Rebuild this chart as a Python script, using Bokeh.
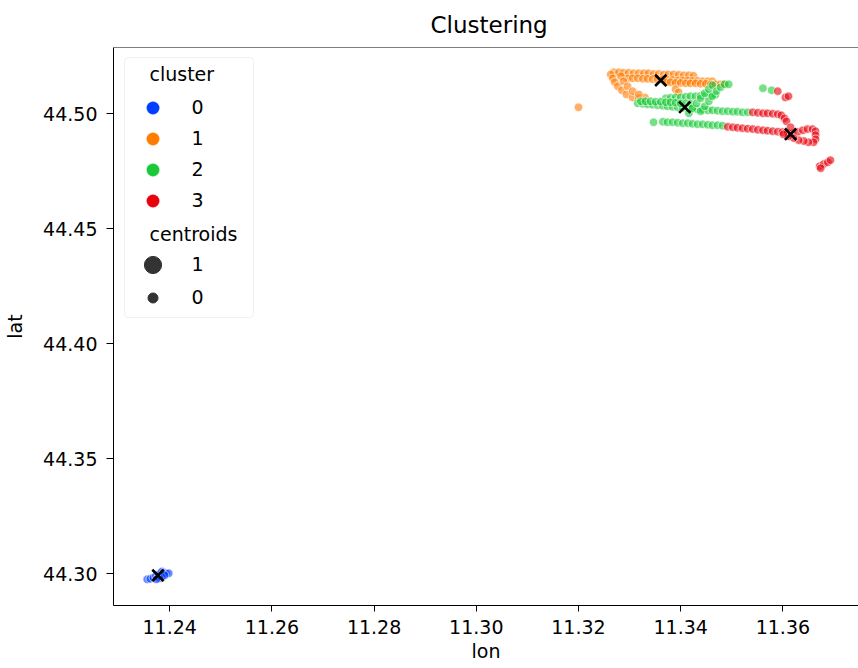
from bokeh.plotting import figure
from bokeh.models import (Range1d, FixedTicker, Legend, LegendItem, Label,
                          BoxAnnotation, Span)
from bokeh.embed import file_html
from bokeh.resources import INLINE

FONT = "DejaVu Sans"
NAN = float("nan")

# ---------------- data ----------------
cluster_names = ["0", "1", "2", "3"]
cluster_colors = ["#023eff", "#ff7c00", "#1ac938", "#e8000b"]

lon_c0 = [11.2356, 11.2362, 11.2368, 11.2373, 11.2378, 11.2382, 11.2385, 11.2388,
          11.2393, 11.2398, 11.2385, 11.2380, 11.2374, 11.2390]
lat_c0 = [44.2976, 44.2978, 44.2983, 44.2990, 44.2997, 44.3003, 44.3010, 44.3005,
          44.3001, 44.3002, 44.2985, 44.2980, 44.2976, 44.2994]

lon_c1 = [11.3269, 11.3279, 11.3288, 11.3298, 11.3308, 11.3318, 11.3328, 11.3337,
          11.3347, 11.3357, 11.3367, 11.3376, 11.3386, 11.3396, 11.3406, 11.3416, 11.3425,
          11.3296, 11.3306, 11.3316, 11.3326, 11.3335, 11.3345, 11.3355, 11.3365,
          11.3374, 11.3384, 11.3394, 11.3404, 11.3414, 11.3423, 11.3433, 11.3443, 11.3453, 11.3462,
          11.3371, 11.3380, 11.3390, 11.3400, 11.3410, 11.3419, 11.3429, 11.3439,
          11.3449, 11.3459, 11.3468, 11.3478, 11.3484,
          11.3263, 11.3267, 11.3271, 11.3277, 11.3285, 11.3294, 11.3306, 11.3318, 11.3330,
          11.3283, 11.3288, 11.3296, 11.3306, 11.3318,
          11.3390, 11.3396, 11.3200]
lat_c1 = [44.5181, 44.5181, 44.5179, 44.5179, 44.5177, 44.5177, 44.5177, 44.5177,
          44.5174, 44.5174, 44.5172, 44.5172, 44.5172, 44.5170, 44.5168, 44.5168, 44.5166,
          44.5155, 44.5155, 44.5155, 44.5153, 44.5153, 44.5151, 44.5151, 44.5151,
          44.5148, 44.5148, 44.5146, 44.5146, 44.5146, 44.5144, 44.5144, 44.5142, 44.5142, 44.5142,
          44.5138, 44.5138, 44.5135, 44.5135, 44.5133, 44.5133, 44.5133, 44.5131,
          44.5131, 44.5129, 44.5129, 44.5129, 44.5129,
          44.5172, 44.5155, 44.5138, 44.5120, 44.5103, 44.5085, 44.5072, 44.5068, 44.5072,
          44.5164, 44.5142, 44.5120, 44.5099, 44.5085,
          44.5107, 44.5094, 44.5029]

lon_c2 = [11.3316, 11.3326, 11.3335, 11.3345, 11.3355, 11.3365, 11.3374, 11.3384,
          11.3394, 11.3404, 11.3414, 11.3423, 11.3433, 11.3443, 11.3453, 11.3462,
          11.3472, 11.3482, 11.3492, 11.3502, 11.3511, 11.3521, 11.3531,
          11.3371, 11.3380, 11.3390, 11.3400, 11.3410, 11.3419, 11.3429, 11.3439,
          11.3449, 11.3459, 11.3468,
          11.3322, 11.3331, 11.3341, 11.3351, 11.3361, 11.3371, 11.3380, 11.3390,
          11.3400, 11.3410, 11.3419,
          11.3365, 11.3374, 11.3384, 11.3394, 11.3404, 11.3414, 11.3423, 11.3433,
          11.3443, 11.3453, 11.3462, 11.3472, 11.3482, 11.3347,
          11.3416, 11.3423, 11.3431, 11.3439, 11.3447, 11.3455, 11.3462,
          11.3439, 11.3447, 11.3455, 11.3462, 11.3470, 11.3478, 11.3486, 11.3494,
          11.3561, 11.3578]
lat_c2 = [44.5046, 44.5044, 44.5042, 44.5040, 44.5038, 44.5036, 44.5033, 44.5031,
          44.5029, 44.5027, 44.5025, 44.5023, 44.5020, 44.5018, 44.5016, 44.5016,
          44.5014, 44.5012, 44.5012, 44.5010, 44.5010, 44.5007, 44.5007,
          44.5068, 44.5070, 44.5072, 44.5072, 44.5075, 44.5077, 44.5077, 44.5079,
          44.5081, 44.5081, 44.5083,
          44.5055, 44.5055, 44.5055, 44.5053, 44.5053, 44.5051, 44.5051, 44.5049,
          44.5046, 44.5046, 44.5044,
          44.4966, 44.4964, 44.4964, 44.4962, 44.4960, 44.4960, 44.4957, 44.4955,
          44.4955, 44.4953, 44.4951, 44.4951, 44.4949, 44.4964,
          44.5003, 44.5025, 44.5046, 44.5068, 44.5090, 44.5107, 44.5125,
          44.5012, 44.5033, 44.5055, 44.5077, 44.5099, 44.5116, 44.5129, 44.5129,
          44.5112, 44.5103]

lon_c3 = [11.3541, 11.3551, 11.3561, 11.3570, 11.3580, 11.3590, 11.3597, 11.3603, 11.3607,
          11.3492, 11.3502, 11.3511, 11.3521, 11.3531, 11.3541, 11.3551, 11.3561,
          11.3570, 11.3580, 11.3590, 11.3599, 11.3609, 11.3619, 11.3629, 11.3639,
          11.3648, 11.3658, 11.3664, 11.3664, 11.3664, 11.3660, 11.3650, 11.3641,
          11.3631, 11.3621, 11.3611, 11.3601, 11.3615,
          11.3590, 11.3605, 11.3611,
          11.3672, 11.3680, 11.3688, 11.3693, 11.3674]
lat_c3 = [44.5007, 44.5005, 44.5003, 44.5003, 44.5001, 44.4999, 44.4994, 44.4981, 44.4968,
          44.4944, 44.4942, 44.4940, 44.4938, 44.4936, 44.4934, 44.4931, 44.4929,
          44.4927, 44.4925, 44.4923, 44.4921, 44.4918, 44.4916, 44.4921, 44.4929,
          44.4934, 44.4934, 44.4925, 44.4908, 44.4890, 44.4877, 44.4877, 44.4882,
          44.4886, 44.4895, 44.4903, 44.4912, 44.4942,
          44.5099, 44.5072, 44.5077,
          44.4773, 44.4782, 44.4790, 44.4799, 44.4764]

centroid_lon = [11.2377, 11.3361, 11.3408, 11.3615]
centroid_lat = [44.2993, 44.5146, 44.5029, 44.4912]

size_names = ["1", "0"]

x_ticks = [11.24, 11.26, 11.28, 11.30, 11.32, 11.34, 11.36]
x_tick_labels = ["11.24", "11.26", "11.28", "11.30", "11.32", "11.34", "11.36"]
y_ticks = [44.30, 44.35, 44.40, 44.45, 44.50]
y_tick_labels = ["44.30", "44.35", "44.40", "44.45", "44.50"]

X_START, X_END = 11.2290, 11.3748
Y_START, Y_END = 44.2862, 44.5289

# ---------------- figure ----------------
p = figure(width=858, height=668, output_backend="svg", toolbar_location=None,
           x_range=Range1d(X_START, X_END), y_range=Range1d(Y_START, Y_END),
           min_border_left=113, min_border_right=0, min_border_top=46,
           min_border_bottom=63)
p.outline_line_color = None
p.xgrid.visible = False
p.ygrid.visible = False
p.background_fill_color = "white"

p.title.text = "Clustering"
p.title.text_font = FONT
p.title.text_font_size = "23px"
p.title.text_font_style = "normal"
p.title.text_color = "black"
p.title.align = "left"
p.title.offset = 317
p.title.standoff = 19

for ax in (p.xaxis[0], p.yaxis[0]):
    ax.axis_line_color = "black"
    ax.axis_line_width = 1
    ax.major_tick_line_color = "black"
    ax.major_tick_in = 0
    ax.minor_tick_line_color = None
    ax.major_label_text_font = FONT
    ax.major_label_text_font_size = "19px"
    ax.major_label_text_color = "black"
    ax.axis_label_text_font = FONT
    ax.axis_label_text_font_size = "19px"
    ax.axis_label_text_font_style = "normal"
    ax.axis_label_text_color = "black"

p.xaxis.ticker = FixedTicker(ticks=x_ticks)
p.xaxis.major_label_overrides = dict(zip(x_ticks, x_tick_labels))
p.xaxis.major_tick_out = 6
p.xaxis.major_label_standoff = 8
p.xaxis.axis_label = "lon"
p.xaxis.axis_label_standoff = 3

p.yaxis.ticker = FixedTicker(ticks=y_ticks)
p.yaxis.major_label_overrides = dict(zip(y_ticks, y_tick_labels))
p.yaxis.major_tick_out = 7
p.yaxis.major_label_standoff = 9
p.yaxis.axis_label = "lat"
p.yaxis.axis_label_standoff = 14

p.add_layout(Span(location=Y_END, dimension="width", line_color="black", line_width=1))

# ---------------- data marks ----------------
all_lon = [lon_c0, lon_c1, lon_c2, lon_c3]
all_lat = [lat_c0, lat_c1, lat_c2, lat_c3]
for lo, la, col in zip(all_lon, all_lat, cluster_colors):
    p.scatter(lo, la, marker="circle", size=8.5, fill_color=col, fill_alpha=0.6,
              line_color="white", line_width=0.8, line_alpha=0.8)

p.scatter(centroid_lon, centroid_lat, marker="x", size=16, line_width=2.6,
          line_color="black")

# ---------------- legend ----------------
p.add_layout(BoxAnnotation(left=11, right=140, top=548, bottom=288,
                           left_units="screen", right_units="screen",
                           top_units="screen", bottom_units="screen",
                           fill_color="white", fill_alpha=0.85,
                           line_color="#cccccc", line_width=1, border_radius=4))

dummy = [p.scatter(x=[NAN], y=[NAN], marker="circle", fill_color=c, line_color=c,
                   line_width=0.5) for c in cluster_colors]
leg_common = dict(padding=0, margin=0, spacing=0, border_line_color=None,
                  background_fill_alpha=0, label_text_font=FONT,
                  label_text_font_size="19px", label_text_color="black")
leg_cluster = Legend(items=[LegendItem(label=n, renderers=[r])
                            for n, r in zip(cluster_names, dummy)],
                     location=(21.5, 389.5), glyph_width=35, glyph_height=31,
                     label_standoff=22, **leg_common)
p.add_layout(leg_cluster)

big = p.scatter(x=[NAN], y=[NAN], marker="circle", fill_color="#333333",
                line_color="#333333")
small = p.scatter(x=[NAN], y=[NAN], marker="circle", fill_color="#333333",
                  line_color="#333333")
leg_big = Legend(items=[LegendItem(label=size_names[0], renderers=[big])],
                 location=(17.5, 319.5), glyph_width=43, glyph_height=43,
                 label_standoff=18, **leg_common)
leg_small = Legend(items=[LegendItem(label=size_names[1], renderers=[small])],
                   location=(26.5, 295.5), glyph_width=25, glyph_height=25,
                   label_standoff=27, **leg_common)
p.add_layout(leg_big)
p.add_layout(leg_small)

for txt, yy in (("cluster", 532), ("centroids", 372)):
    p.add_layout(Label(x=36, y=yy, x_units="screen", y_units="screen", text=txt,
                       text_baseline="middle", text_font=FONT,
                       text_font_size="19px", text_color="black"))

open("out.html", "w").write(file_html(p, INLINE))
